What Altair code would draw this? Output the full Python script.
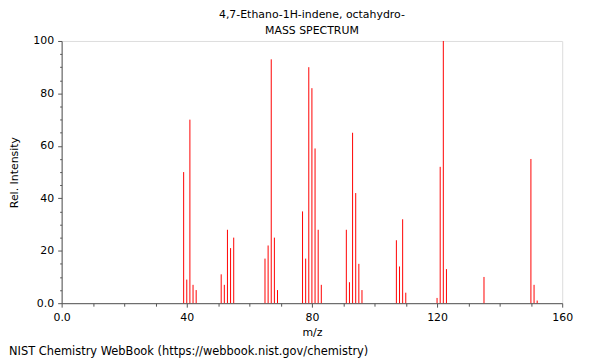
import altair as alt
import pandas as pd

mz = [39, 40, 41, 42, 43,
      51, 52, 53, 54, 55,
      65, 66, 67, 68, 69,
      77, 78, 79, 80, 81, 82, 83,
      91, 92, 93, 94, 95, 96,
      107, 108, 109, 110,
      120, 121, 122, 123,
      135,
      150, 151, 152]
intensity = [50, 9, 70, 7, 5,
             11, 7, 28, 21, 25,
             17, 22, 93, 25, 5,
             35, 17, 90, 82, 59, 28, 7,
             28, 8, 65, 42, 15, 5,
             24, 14, 32, 4,
             2, 52, 100, 13,
             10,
             55, 7, 1]

title_lines = ["4,7-Ethano-1H-indene, octahydro-", "MASS SPECTRUM"]
footer = "NIST Chemistry WebBook (https://webbook.nist.gov/chemistry)"
x_ticks = list(range(0, 161, 10))
y_ticks = list(range(0, 101, 5))

df = pd.DataFrame({"mz": mz, "intensity": intensity, "base": [0] * len(mz)})

FONT = "DejaVu Sans"
AX = "#555555"

x_axis = alt.Axis(
    values=x_ticks,
    labelExpr="datum.value % 40 === 0 ? (datum.value === 0 ? '0.0' : datum.label) : ''",
    tickSize={"condition": {"test": "datum.value % 40 === 0", "value": 4}, "value": 3},
    title="m/z", titleY=30, titleBaseline="middle",
    labelPadding=4, labelFlush=False, labelOverlap=False, grid=False,
    domainColor=AX, tickColor=AX,
    labelFont=FONT, labelFontSize=11, labelColor="black",
    titleFont=FONT, titleFontSize=11, titleFontWeight="normal", titleColor="black",
)
y_axis = alt.Axis(
    values=y_ticks,
    labelExpr="datum.value % 20 === 0 ? (datum.value === 0 ? '0.0' : datum.label) : ''",
    tickSize={"condition": {"test": "datum.value % 20 === 0", "value": 4}, "value": 2},
    title="Rel. Intensity", titleX=-47, titleY=132, titleAlign="center", titleBaseline="middle",
    labelPadding=4, labelFlush=False, labelOverlap=False, grid=False,
    domainColor=AX, tickColor=AX,
    labelFont=FONT, labelFontSize=11, labelColor="black",
    titleFont=FONT, titleFontSize=11, titleFontWeight="normal", titleColor="black",
)

bars = alt.Chart(df).mark_rule(color="red", strokeWidth=1).encode(
    x=alt.X("mz:Q", scale=alt.Scale(domain=[0, 160], nice=False), axis=x_axis),
    y=alt.Y("intensity:Q", scale=alt.Scale(domain=[0, 100], nice=False), axis=y_axis),
    y2="base:Q",
)

t1 = alt.Chart(pd.DataFrame({"t": [title_lines[0]]})).mark_text(
    font=FONT, fontSize=11, color="black", align="center", baseline="middle"
).encode(text="t:N", x=alt.value(252), y=alt.value(-26))
t2 = alt.Chart(pd.DataFrame({"t": [title_lines[1]]})).mark_text(
    font=FONT, fontSize=11, color="black", align="center", baseline="middle"
).encode(text="t:N", x=alt.value(252), y=alt.value(-10))
ft = alt.Chart(pd.DataFrame({"t": [footer]})).mark_text(
    font=FONT, fontSize=11.5, color="black", align="left", baseline="middle"
).encode(text="t:N", x=alt.value(-53), y=alt.value(313))

chart = alt.layer(bars, t1, t2, ft).properties(
    width=504, height=264,
    autosize=alt.AutoSizeParams(type="none"),
    padding={"left": 54, "top": 32, "right": 30, "bottom": 56},
).configure_view(stroke=AX, strokeWidth=1).configure(background="white")

chart.save("out.html", embed_options={"renderer": "svg", "actions": False})
